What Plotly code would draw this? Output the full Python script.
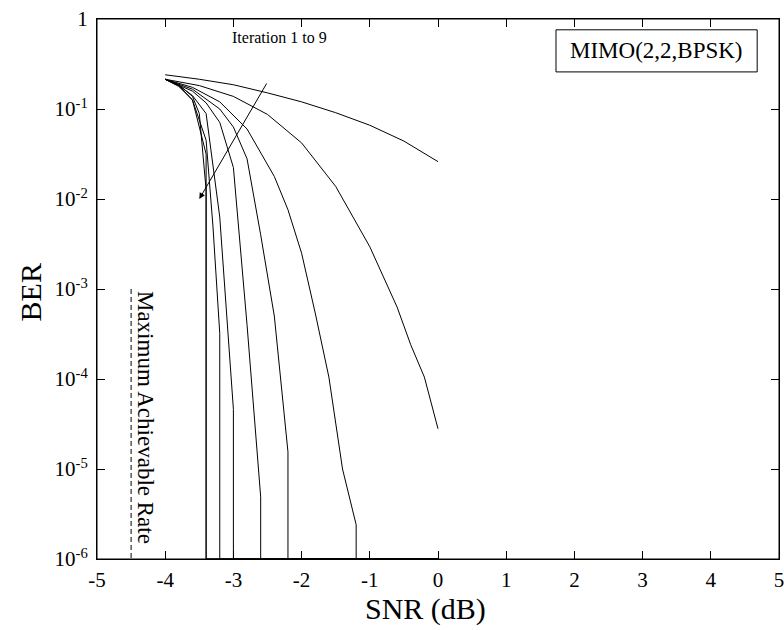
import plotly.graph_objects as go

# ---------------- data (SNR in dB, BER) ----------------
it1_x = [-4, -3.5, -3, -2.5, -2, -1.5, -1, -0.5, 0]
it1_y = [0.24, 0.214, 0.186, 0.151, 0.120, 0.091, 0.066, 0.044, 0.026]

it2_x = [-4, -3.5, -3, -2.5, -2, -1.5, -1, -0.6, -0.4, -0.2, 0]
it2_y = [0.214, 0.182, 0.138, 0.087, 0.042, 0.0138, 0.00295, 6.3e-4, 2.4e-4, 1.05e-4, 2.8e-5]

it3_x = [-4, -3.6, -3.2, -2.8, -2.4, -2.2, -2.0, -1.8, -1.6, -1.4, -1.2, -1.2, 0]
it3_y = [0.214, 0.174, 0.12, 0.060, 0.0178, 0.0076, 0.0025, 5.4e-4, 1.05e-4, 1.0e-5, 2.4e-6, 1e-6, 1e-6]

it4_x = [-4, -3.6, -3.2, -3.0, -2.8, -2.6, -2.4, -2.2, -2.2, 0]
it4_y = [0.214, 0.166, 0.10, 0.063, 0.028, 0.004, 5.0e-4, 1.55e-5, 1e-6, 1e-6]

it5_x = [-4, -3.6, -3.4, -3.2, -3.0, -2.8, -2.6, -2.6, 0]
it5_y = [0.214, 0.158, 0.117, 0.071, 0.0224, 4.0e-4, 4.9e-6, 1e-6, 1e-6]

it6_x = [-4, -3.8, -3.6, -3.4, -3.2, -3.0, -3.0, 0]
it6_y = [0.214, 0.182, 0.141, 0.089, 0.0063, 4.6e-5, 1e-6, 1e-6]

it7_x = [-4, -3.8, -3.6, -3.4, -3.3, -3.2, -3.2, 0]
it7_y = [0.214, 0.178, 0.126, 0.045, 0.005, 3.2e-4, 1e-6, 1e-6]

it8_x = [-4, -3.8, -3.6, -3.5, -3.4, -3.4, 0]
it8_y = [0.214, 0.186, 0.138, 0.089, 0.0126, 1e-6, 1e-6]

it9_x = [-4, -3.8, -3.6, -3.5, -3.4, -3.4, 0]
it9_y = [0.214, 0.182, 0.126, 0.063, 0.0316, 1e-6, 1e-6]

series = [(it1_x, it1_y), (it2_x, it2_y), (it3_x, it3_y), (it4_x, it4_y),
          (it5_x, it5_y), (it6_x, it6_y), (it7_x, it7_y), (it8_x, it8_y),
          (it9_x, it9_y)]

mar_x = [-4.5, -4.5]
mar_y = [1e-3, 1e-6]

x_ticks = [-5, -4, -3, -2, -1, 0, 1, 2, 3, 4, 5]
x_ticktext = ["-5", "-4", "-3", "-2", "-1", "0", "1", "2", "3", "4", "5"]
y_ticks = [1, 1e-1, 1e-2, 1e-3, 1e-4, 1e-5, 1e-6]
y_ticktext = ["1", "10<sup>-1</sup>", "10<sup>-2</sup>", "10<sup>-3</sup>",
              "10<sup>-4</sup>", "10<sup>-5</sup>", "10<sup>-6</sup>"]

FONT = "Liberation Serif"

fig = go.Figure()
for sx, sy in series:
    fig.add_trace(go.Scatter(x=sx, y=sy, mode="lines",
                             line=dict(color="black", width=1),
                             showlegend=False, hoverinfo="skip"))

fig.add_trace(go.Scatter(x=mar_x, y=mar_y, mode="lines",
                         line=dict(color="black", width=1, dash="5px,3px"),
                         showlegend=False, hoverinfo="skip"))

# arrow "Iteration 1 to 9"
fig.add_annotation(x=-3.5, y=-2.0, ax=-2.5, ay=-0.70, xref="x", yref="y",
                   axref="x", ayref="y", text="", showarrow=True,
                   arrowhead=2, arrowsize=1.2, arrowwidth=1, arrowcolor="black")
fig.add_annotation(x=-2.32, y=-0.21, xref="x", yref="y", text="Iteration 1 to 9",
                   showarrow=False, font=dict(family=FONT, size=16, color="black"))

# plot frame and MIMO box (paper coordinates)
fig.add_shape(type="rect", xref="paper", yref="paper", x0=0, x1=1, y0=0, y1=1,
              line=dict(color="black", width=1), layer="above")
fig.add_shape(type="rect", xref="paper", yref="paper", x0=0.673, x1=0.968,
              y0=0.902, y1=0.98, line=dict(color="black", width=1), layer="above")
fig.add_annotation(x=0.8205, y=0.941, xref="paper", yref="paper", text="MIMO(2,2,BPSK)",
                   xanchor="center", yanchor="middle", showarrow=False,
                   font=dict(family=FONT, size=23, color="black"))

# Maximum Achievable Rate
fig.add_annotation(x=-4.285, y=-4.43, xref="x", yref="y", text="Maximum Achievable Rate",
                   textangle=90, showarrow=False, xanchor="center", yanchor="middle",
                   font=dict(family=FONT, size=23, color="black"))

# axis titles
fig.add_annotation(x=0.4824, y=-0.0926, xref="paper", yref="paper", text="SNR (dB)",
                   xanchor="center", yanchor="middle", showarrow=False,
                   font=dict(family=FONT, size=30, color="black"))
fig.add_annotation(x=-0.098, y=0.494, xref="paper", yref="paper", text="BER",
                   textangle=-90, xanchor="center", yanchor="middle", showarrow=False,
                   font=dict(family=FONT, size=30, color="black"))

axis_common = dict(showline=True, linecolor="black", linewidth=1, mirror="ticks",
                   ticks="inside", ticklen=8, tickwidth=1, tickcolor="black",
                   showgrid=False, zeroline=False, automargin=False,
                   ticklabeloverflow="allow",
                   tickfont=dict(family=FONT, size=21, color="black"))

fig.update_xaxes(range=[-5, 5], tickvals=x_ticks, ticktext=x_ticktext,
                 ticklabelstandoff=2, **axis_common)
fig.update_yaxes(type="log", range=[-6, 0], tickvals=y_ticks, ticktext=y_ticktext,
                 ticklabelstandoff=4, **axis_common)

fig.update_layout(width=784, height=630, margin=dict(l=97, r=5, t=19, b=71),
                  paper_bgcolor="white", plot_bgcolor="white",
                  font=dict(family=FONT, color="black"))

fig.write_html("out.html", config={"displayModeBar": False},
               post_script="document.body.style.margin='0px';"
                           "document.body.style.overflow='hidden';")
